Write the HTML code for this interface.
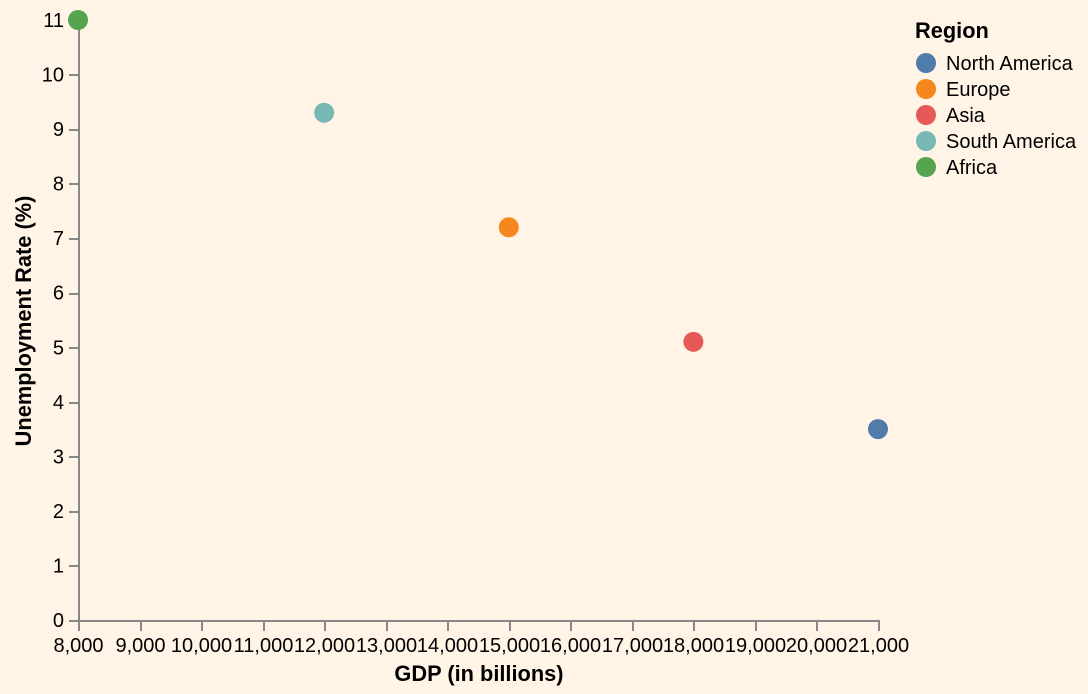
<!DOCTYPE html>
<html>
<head>
<meta charset="utf-8">
<style>
html,body{margin:0;padding:0;background:#fff4e6;}
svg{display:block;}
text{font-family:"Liberation Sans",Arial,sans-serif;fill:#000;}
</style>
</head>
<body>
<svg id="chart" width="1088" height="694" viewBox="0 0 1088 694" xmlns="http://www.w3.org/2000/svg">
<rect width="1088" height="694" fill="#fff4e6"></rect>
<g id="axes"></g>
<g id="marks"></g>
<text x="479" y="681" text-anchor="middle" font-size="21.8" font-weight="bold">GDP (in billions)</text>
<text transform="translate(31,321) rotate(-90)" text-anchor="middle" font-size="21.8" font-weight="bold">Unemployment Rate (%)</text>
<g id="legend">
<text x="915" y="38" font-size="21.8" font-weight="bold">Region</text>
</g>
</svg>
<script>
var regions = ['North America', 'Europe', 'Asia', 'South America', 'Africa'];
var gdpValues = [21000, 15000, 18000, 12000, 8000];
var unemploymentValues = [3.5, 7.2, 5.1, 9.3, 11];
var regionColors = ['#4c78a8', '#f58518', '#e45756', '#72b7b2', '#54a24b'];
var xTicks = [8000, 9000, 10000, 11000, 12000, 13000, 14000, 15000, 16000, 17000, 18000, 19000, 20000, 21000];
var yTicks = [0, 1, 2, 3, 4, 5, 6, 7, 8, 9, 10, 11];

var NS = 'http://www.w3.org/2000/svg';
var plotLeft = 78, plotRight = 878, plotTop = 20, plotBottom = 620;
var xDomainMin = xTicks[0], xDomainMax = xTicks[xTicks.length - 1];
var yDomainMin = yTicks[0], yDomainMax = yTicks[yTicks.length - 1];

function xScale(v) {
  return plotLeft + (v - xDomainMin) / (xDomainMax - xDomainMin) * (plotRight - plotLeft);
}
function yScale(v) {
  return plotBottom - (v - yDomainMin) / (yDomainMax - yDomainMin) * (plotBottom - plotTop);
}
function make(tag, attrs, parent) {
  var el = document.createElementNS(NS, tag);
  for (var k in attrs) { el.setAttribute(k, attrs[k]); }
  parent.appendChild(el);
  return el;
}

var axes = document.getElementById('axes');
var marks = document.getElementById('marks');
var legend = document.getElementById('legend');
var axisColor = '#888888';
var axisX = Math.round(plotLeft + 1), axisY = Math.round(plotBottom + 1);

xTicks.forEach(function (t) {
  var x = Math.round(xScale(t) + 1);
  var tick = make('line', {x1: x, x2: x, y1: axisY, y2: axisY + 10, stroke: axisColor, 'stroke-width': 2}, axes);
  
  
  var label = make('text', {x: x - 0.5, y: 652, 'text-anchor': 'middle', 'font-size': 20}, axes);
  label.textContent = t.toLocaleString('en-US');
  
  
});

yTicks.forEach(function (t) {
  var y = Math.round(yScale(t) + 0.8);
  var tick = make('line', {x1: axisX - 10, x2: axisX, y1: y, y2: y, stroke: axisColor, 'stroke-width': 2}, axes);
  
  
  var label = make('text', {x: 64, y: yScale(t) + 7, 'text-anchor': 'end', 'font-size': 20}, axes);
  label.textContent = String(t);
  
  
});

var xDomainLine = make('line', {x1: axisX - 1, x2: Math.round(plotRight + 1) + 1, y1: axisY, y2: axisY, stroke: axisColor, 'stroke-width': 2}, axes);


var yDomainLine = make('line', {x1: axisX, x2: axisX, y1: Math.round(plotTop + 1), y2: axisY, stroke: axisColor, 'stroke-width': 2}, axes);



regions.forEach(function (r, i) {
  var point = make('circle', {cx: xScale(gdpValues[i]), cy: yScale(unemploymentValues[i]), r: 10, fill: regionColors[i], 'fill-opacity': 0.98}, marks);
  
  
  var ty = 63 + i * 26;
  var swatch = make('circle', {cx: 926, cy: ty, r: 10, fill: regionColors[i], 'fill-opacity': 0.98}, legend);
  
  
  var label = make('text', {x: 946, y: ty + 7, 'font-size': 20}, legend);
  label.textContent = r;
  
  
});
</script>
</body>
</html>
